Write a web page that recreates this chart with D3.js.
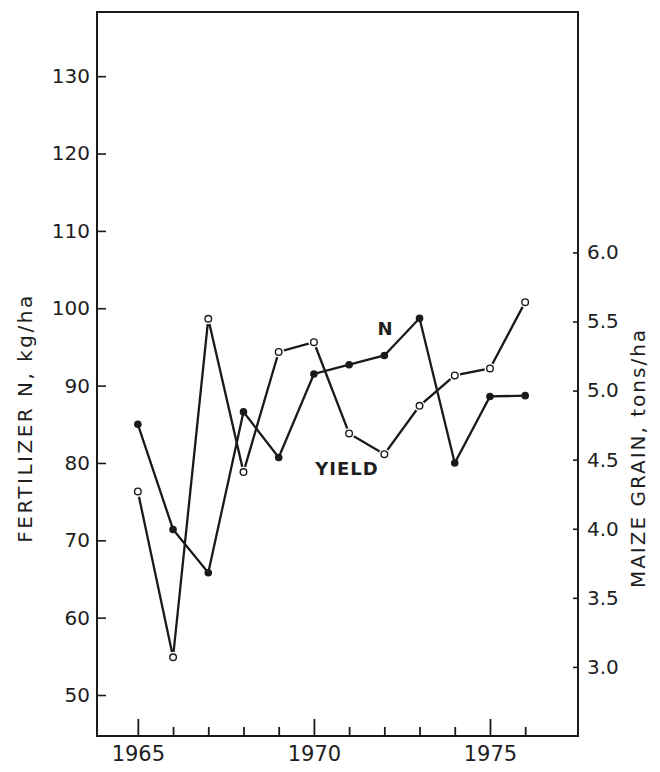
<!DOCTYPE html>
<html>
<head>
<meta charset="utf-8">
<script src="https://cdn.jsdelivr.net/npm/d3@7"></script>
<style>
  html, body { margin: 0; padding: 0; background: #fff; overflow: hidden; }
  svg { display: block; }
  svg text { font-family: "DejaVu Sans", sans-serif; fill: #1e1e1e; }
</style>
</head>
<body>
<svg id="chart"></svg>
<script>
let years = [1965, 1966, 1967, 1968, 1969, 1970, 1971, 1972, 1973, 1974, 1975, 1976]
// fertilizer N, kg/ha (left axis, filled dots)
let nValues = [85.0, 71.4, 65.8, 86.6, 80.7, 91.5, 92.7, 93.9, 98.7, 80.0, 88.6, 88.7]
// maize grain yield, tons/ha (right axis, open dots)
let yieldValues = [4.27, 3.07, 5.52, 4.41, 5.28, 5.35, 4.69, 4.54, 4.89, 5.11, 5.16, 5.64]

let leftTicks = [50, 60, 70, 80, 90, 100, 110, 120, 130]
let rightTicks = [3.0, 3.5, 4.0, 4.5, 5.0, 5.5, 6.0]
let yearLabels = [1965, 1970, 1975]

let width = 660, height = 772
let margin = {top: 12, right: 82, bottom: 36, left: 97}
let innerWidth = width - margin.left - margin.right
let innerHeight = height - margin.top - margin.bottom

let svg = d3.select('#chart')
    .attr('width', width)
    .attr('height', height)

let g = svg.append('g').attr('transform', `translate(${margin.left},${margin.top})`)

let x = d3.scaleLinear().domain([1963.84, 1977.5]).range([0, innerWidth])
let yLeft = d3.scaleLinear().domain([44.7, 138.3]).range([innerHeight, 0])
let yRight = d3.scaleLinear().domain([2.5, 7.74]).range([innerHeight, 0])

// frame
g.append('rect')
    .attr('width', innerWidth)
    .attr('height', innerHeight)
    .attr('fill', 'none')
    .attr('stroke', '#1a1a1a')
    .attr('stroke-width', 2)

// left axis (ticks point inward)
let leftAxis = d3.axisLeft(yLeft).tickValues(leftTicks).tickSize(-9).tickPadding(7)
let gl = g.append('g').call(leftAxis)
gl.select('.domain').remove()
gl.selectAll('line').attr('stroke', '#1a1a1a').attr('stroke-width', 1.6)
gl.selectAll('text').attr('font-size', 20).attr('fill', '#1e1e1e')
    .attr('font-family', '"DejaVu Sans", sans-serif')

// right axis
let rightAxis = d3.axisRight(yRight).tickValues(rightTicks).tickSize(-5).tickPadding(9)
    .tickFormat(d3.format('.1f'))
let gr = g.append('g').attr('transform', `translate(${innerWidth},0)`).call(rightAxis)
gr.select('.domain').remove()
gr.selectAll('line').attr('stroke', '#1a1a1a').attr('stroke-width', 1.6)
gr.selectAll('text').attr('font-size', 20).attr('fill', '#1e1e1e')
    .attr('font-family', '"DejaVu Sans", sans-serif')

// bottom axis: every year, longer ticks on labelled years
let bottomAxis = d3.axisBottom(x).tickValues(years).tickSize(0)
    .tickFormat(d => yearLabels.includes(d) ? d : '')
    .tickPadding(10)
let gb = g.append('g').attr('transform', `translate(0,${innerHeight})`).call(bottomAxis)
gb.select('.domain').remove()
gb.selectAll('.tick line')
    .attr('y2', d => yearLabels.includes(d) ? -17 : -9)
    .attr('stroke', '#1a1a1a').attr('stroke-width', 1.8)
gb.selectAll('.tick text').filter(d => !yearLabels.includes(d)).remove()
gb.selectAll('text').attr('font-size', 21).attr('fill', '#1e1e1e')
    .attr('font-family', '"DejaVu Sans", sans-serif')

// axis titles
svg.append('text')
    .attr('x', 26).attr('y', 418)
    .attr('transform', 'rotate(-90, 26, 418)')
    .attr('text-anchor', 'middle')
    .attr('dominant-baseline', 'middle')
    .attr('font-size', 20)
    .attr('letter-spacing', 2.5)
    .text('FERTILIZER N, kg/ha')

svg.append('text')
    .attr('x', 639).attr('y', 458)
    .attr('transform', 'rotate(-90, 639, 458)')
    .attr('text-anchor', 'middle')
    .attr('dominant-baseline', 'middle')
    .attr('font-size', 20)
    .attr('letter-spacing', 2)
    .text('MAIZE GRAIN, tons/ha')

// series lines
let nLine = d3.line().x((d, i) => x(years[i])).y(d => yLeft(d))
let yieldLine = d3.line().x((d, i) => x(years[i])).y(d => yRight(d))

g.append('path')
    .attr('d', yieldLine(yieldValues))
    .attr('fill', 'none')
    .attr('stroke', '#1a1a1a')
    .attr('stroke-width', 2.3)

g.append('path')
    .attr('d', nLine(nValues))
    .attr('fill', 'none')
    .attr('stroke', '#1a1a1a')
    .attr('stroke-width', 2.3)

// open circles (yield), with a small white halo so the line stops short
g.selectAll('.yhalo')
    .data(yieldValues)
    .join('circle')
        .attr('class', 'yhalo')
        .attr('cx', (d, i) => x(years[i]))
        .attr('cy', d => yRight(d))
        .attr('r', 5.5)
        .attr('fill', '#fff')

g.selectAll('.ydot')
    .data(yieldValues)
    .join('circle')
        .attr('class', 'ydot')
        .attr('cx', (d, i) => x(years[i]))
        .attr('cy', d => yRight(d))
        .attr('r', 3.3)
        .attr('fill', '#fff')
        .attr('stroke', '#1a1a1a')
        .attr('stroke-width', 1.4)

g.selectAll('.ndot')
    .data(nValues)
    .join('circle')
        .attr('class', 'ndot')
        .attr('cx', (d, i) => x(years[i]))
        .attr('cy', d => yLeft(d))
        .attr('r', 3.8)
        .attr('fill', '#1a1a1a')

// series labels
svg.append('text')
    .attr('x', 385).attr('y', 330)
    .attr('text-anchor', 'middle')
    .attr('dominant-baseline', 'middle')
    .attr('font-size', 18)
    .attr('font-weight', 'bold')
    .text('N')

svg.append('text')
    .attr('x', 347).attr('y', 470)
    .attr('text-anchor', 'middle')
    .attr('dominant-baseline', 'middle')
    .attr('font-size', 18)
    .attr('font-weight', 'bold')
    .attr('letter-spacing', 1)
    .text('YIELD')
</script>
</body>
</html>
